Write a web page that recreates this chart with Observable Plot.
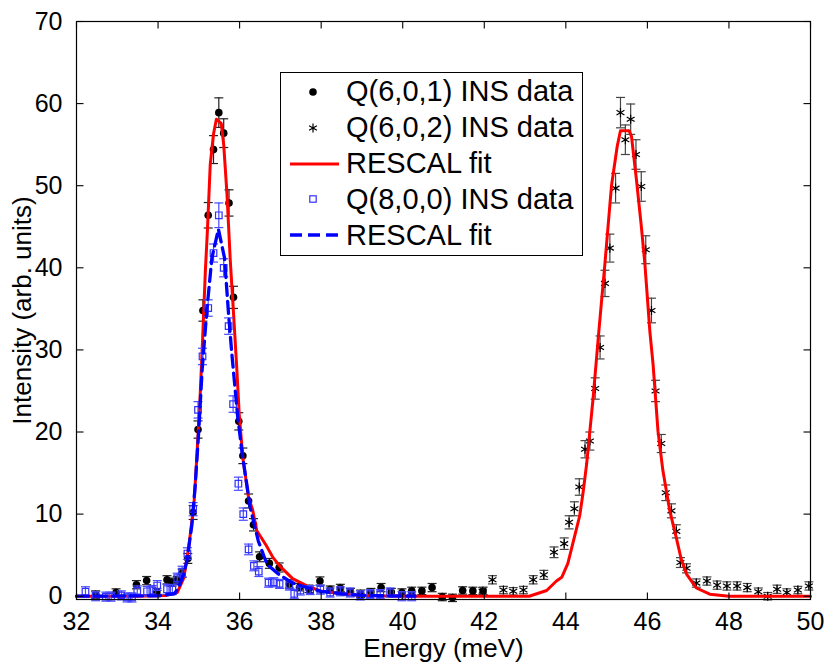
<!DOCTYPE html>
<html>
<head>
<meta charset="utf-8">
<script src="https://cdn.jsdelivr.net/npm/d3@7"></script>
<script src="https://cdn.jsdelivr.net/npm/@observablehq/plot@0.6"></script>
<style>
  body { margin: 0; background: #fff; }
  #wrap { position: relative; width: 830px; height: 666px; font-family: "Liberation Sans", Arial, Helvetica, sans-serif; }
  #legend { position: absolute; left: 280px; top: 72px; width: 303px; height: 184px; box-sizing: border-box;
            border: 1.3px solid #000; background: #fff; padding-top: 1px; }
  .row { display: flex; align-items: center; height: 35.8px; }
  .row svg { flex: none; }
  .row span { font-size: 29px; line-height: 1; margin-left: 5px; color: #000; white-space: nowrap; }
</style>
</head>
<body>
<div id="wrap"></div>
<script>
// ---------------- data ----------------
const xTicks = [32, 34, 36, 38, 40, 42, 44, 46, 48, 50];
const yTicks = [0, 10, 20, 30, 40, 50, 60, 70];

// Q(6,0,1) INS data (filled circles)
const E601 = [32.47, 32.97, 33.47, 33.72, 33.97, 34.22, 34.34, 34.47, 34.59, 34.73, 34.86, 34.98, 35.10, 35.23, 35.36, 35.49, 35.61, 35.74, 35.85, 35.98, 36.08, 36.22, 36.34, 36.49, 36.73, 36.97, 37.22, 37.47, 37.70, 37.97, 38.22, 38.47, 38.72, 38.97, 39.22, 39.47, 39.72, 39.98, 40.22, 40.47, 40.72, 40.97, 41.22, 41.47, 41.72, 41.97];
const I601 = [0.2, 0.45, 1.4, 1.9, 0.5, 2.0, 1.7, 1.9, 2.8, 4.6, 10.2, 20.3, 34.8, 46.4, 54.4, 58.9, 56.4, 47.9, 36.4, 21.3, 17.1, 11.6, 8.7, 4.8, 4.0, 3.5, 1.5, 1.1, 0.9, 1.85, 0.8, 1.0, 0.5, 0.3, 0.5, 1.05, 0.5, 0.45, 0.65, 0.65, 1.05, -0.1, -0.2, 0.7, 0.65, 0.65];
const S601 = [0.45, 0.45, 0.5, 0.5, 0.45, 0.5, 0.5, 0.5, 0.5, 0.6, 0.85, 1.05, 1.3, 1.55, 1.7, 1.8, 1.75, 1.6, 1.35, 1.05, 0.95, 0.85, 0.75, 0.6, 0.6, 0.55, 0.5, 0.45, 0.45, 0.5, 0.45, 0.45, 0.45, 0.45, 0.45, 0.5, 0.45, 0.45, 0.45, 0.45, 0.5, 0.45, 0.45, 0.45, 0.45, 0.45];

// Q(6,0,2) INS data (asterisks)
const E602 = [41.96, 42.20, 42.47, 42.71, 42.96, 43.20, 43.46, 43.71, 43.96, 44.08, 44.21, 44.33, 44.47, 44.59, 44.72, 44.84, 44.96, 45.08, 45.22, 45.34, 45.46, 45.59, 45.72, 45.85, 45.96, 46.10, 46.20, 46.34, 46.45, 46.59, 46.71, 46.81, 46.96, 47.20, 47.46, 47.71, 47.95, 48.20, 48.45, 48.72, 48.95, 49.18, 49.42, 49.69, 49.96];
const I602 = [0.6, 2.0, 0.75, 0.6, 0.75, 2.0, 2.6, 5.35, 6.4, 9.0, 10.65, 13.3, 17.9, 18.9, 25.3, 30.3, 38.1, 42.4, 49.7, 58.9, 55.6, 58.1, 53.8, 49.9, 42.2, 34.8, 25.0, 18.6, 12.6, 10.4, 7.9, 4.1, 3.4, 1.6, 1.85, 1.35, 1.25, 1.25, 1.05, 0.55, 0.0, 0.85, 0.45, 0.75, 1.25];
const S602 = [0.45, 0.5, 0.45, 0.45, 0.45, 0.5, 0.55, 0.65, 0.7, 0.8, 0.85, 1.0, 1.05, 1.1, 1.3, 1.4, 1.6, 1.7, 1.8, 1.85, 1.8, 1.85, 1.8, 1.8, 1.7, 1.5, 1.3, 1.1, 0.95, 0.85, 0.8, 0.6, 0.55, 0.5, 0.5, 0.5, 0.5, 0.5, 0.5, 0.45, 0.45, 0.5, 0.45, 0.45, 0.5];

// Q(8,0,0) INS data (open squares)
const E800 = [32.22, 32.47, 32.72, 32.85, 33.10, 33.24, 33.36, 33.49, 33.73, 33.86, 33.98, 34.22, 34.35, 34.47, 34.59, 34.72, 34.86, 34.98, 35.09, 35.23, 35.36, 35.49, 35.61, 35.73, 35.84, 35.97, 36.09, 36.22, 36.35, 36.47, 36.71, 36.84, 36.98, 37.22, 37.34, 37.49, 37.73, 37.98, 38.22, 38.47, 38.71, 38.96, 39.20, 39.45, 39.69, 39.98, 40.22];
const I800 = [0.55, 0.0, -0.05, -0.05, 0.1, -0.15, -0.15, 0.65, 0.6, 0.7, 1.3, 0.85, 0.8, 2.2, 3.0, 5.2, 10.6, 22.7, 29.2, 35.1, 41.8, 46.4, 40.0, 32.9, 23.4, 13.7, 10.0, 5.7, 3.7, 3.0, 1.65, 1.7, 1.5, 1.3, 0.3, 0.7, 0.75, 0.8, 0.45, 0.6, 0.45, 0.1, 0.25, 0.25, 0.45, 0.0, 0.0];
const S800 = [0.6, 0.55, 0.55, 0.55, 0.55, 0.55, 0.55, 0.6, 0.6, 0.6, 0.6, 0.6, 0.6, 0.6, 0.65, 0.7, 0.8, 1.0, 1.0, 1.0, 1.1, 1.5, 1.1, 1.0, 1.0, 0.8, 0.75, 0.65, 0.6, 0.6, 0.55, 0.55, 0.55, 0.55, 0.55, 0.55, 0.55, 0.55, 0.55, 0.55, 0.55, 0.55, 0.55, 0.55, 0.55, 0.55, 0.55];

// RESCAL fit for Q(6,0,1) and Q(6,0,2) (red solid)
const fitRedE = [32.0, 33.5, 34.2, 34.47, 34.63, 34.75, 34.88, 34.95, 35.03, 35.09, 35.16, 35.21, 35.28, 35.36, 35.43, 35.55, 35.61, 35.69, 35.77, 35.85, 35.93, 35.99, 36.08, 36.22, 36.32, 36.42, 36.65, 36.82, 37.0, 37.3, 37.65, 37.98, 38.5, 39.0, 40.0, 43.1, 43.53, 43.77, 43.9, 44.05, 44.17, 44.25, 44.34, 44.42, 44.51, 44.67, 44.81, 44.96, 45.12, 45.26, 45.34, 45.55, 45.61, 45.73, 45.85, 45.94, 46.06, 46.14, 46.26, 46.38, 46.55, 46.71, 46.83, 46.96, 47.2, 47.53, 48.0, 50.0];
const fitRedI = [0.0, 0.0, 0.1, 0.45, 2.2, 5.9, 11.2, 16.9, 24.2, 31.0, 39.6, 44.5, 52.6, 56.3, 58.1, 57.6, 55.0, 49.0, 41.0, 34.5, 27.8, 22.2, 16.8, 12.0, 10.5, 8.0, 6.2, 4.7, 3.6, 2.15, 1.25, 0.65, 0.3, 0.1, 0.0, 0.0, 0.7, 1.85, 2.3, 4.0, 6.4, 8.0, 9.8, 12.5, 16.1, 24.2, 32.3, 40.6, 50.0, 54.8, 56.7, 56.7, 56.0, 50.8, 45.1, 40.4, 32.3, 28.2, 20.1, 15.3, 10.4, 7.1, 4.5, 2.7, 1.0, 0.25, 0.0, 0.0];

// RESCAL fit for Q(8,0,0) (blue dashed)
const fitBlueE = [32.0, 34.0, 34.4, 34.5, 34.63, 34.71, 34.83, 34.91, 34.99, 35.08, 35.2, 35.32, 35.48, 35.63, 35.73, 35.81, 35.95, 36.06, 36.26, 36.46, 36.67, 36.95, 37.28, 37.69, 38.0, 38.5, 39.0, 40.3];
const fitBlueI = [0.0, 0.05, 0.3, 1.0, 2.7, 4.4, 8.7, 13.4, 19.5, 27.5, 35.0, 41.2, 44.7, 41.2, 34.3, 29.5, 22.0, 17.5, 10.8, 6.7, 3.9, 2.7, 1.65, 1.0, 0.6, 0.3, 0.1, 0.0];

const legendItems = [
  {label: "Q(6,0,1) INS data", kind: "circle"},
  {label: "Q(6,0,2) INS data", kind: "asterisk"},
  {label: "RESCAL fit", kind: "red"},
  {label: "Q(8,0,0) INS data", kind: "square"},
  {label: "RESCAL fit", kind: "blue"}
];

// ---------------- build ----------------
const zip = (E, I, S) => E.map((e, k) => ({e, i: I[k], s: S ? S[k] : 0}));
const d601 = zip(E601, I601, S601);
const d602 = zip(E602, I602, S602);
const d800 = zip(E800, I800, S800);
const redFit = zip(fitRedE, fitRedI);
const blueFit = zip(fitBlueE, fitBlueI);

const sym = (x1, y1, x2, y2) => ({draw(ctx) { ctx.moveTo(x1, y1); ctx.lineTo(x2, y2); }});
const cap = sym(-4.5, 0, 4.5, 0);
const tUp = sym(0, 0, 0, -7), tDown = sym(0, 0, 0, 7), tRight = sym(0, 0, 7, 0), tLeft = sym(0, 0, -7, 0);

function errBars(data, color) {
  return [
    Plot.ruleX(data, {x: "e", y1: d => d.i - d.s, y2: d => d.i + d.s, stroke: color, strokeWidth: 1.2}),
    Plot.dot(data, {x: "e", y: d => d.i + d.s, symbol: cap, stroke: color, strokeWidth: 1.2, fill: "none", r: 4}),
    Plot.dot(data, {x: "e", y: d => d.i - d.s, symbol: cap, stroke: color, strokeWidth: 1.2, fill: "none", r: 4})
  ];
}

const chart = Plot.plot({
  width: 830,
  height: 666,
  marginLeft: 76,
  marginRight: 20,
  marginTop: 21,
  marginBottom: 67,
  style: {fontFamily: "'Liberation Sans', Arial, Helvetica, sans-serif", fontSize: "25px", background: "#fff", color: "#000"},
  x: {domain: [32, 50]},
  y: {domain: [-0.4, 70]},
  marks: [
    // Q(6,0,1)
    ...errBars(d601, "#222"),
    Plot.dot(d601, {x: "e", y: "i", r: 3.8, fill: "#000", stroke: "none"}),
    // Q(6,0,2)
    ...errBars(d602, "#444"),
    Plot.dot(d602, {x: "e", y: "i", symbol: "asterisk", r: 4.3, stroke: "#000", strokeWidth: 1.2, fill: "none"}),
    // red fit
    Plot.line(redFit, {x: "e", y: "i", stroke: "#ff0000", strokeWidth: 3}),
    // Q(8,0,0)
    ...errBars(d800, "#4a4aff"),
    Plot.dot(d800, {x: "e", y: "i", symbol: "square", r: 3.7, stroke: "#3030ff", strokeWidth: 1.2, fill: "none"}),
    // blue fit
    Plot.line(blueFit, {x: "e", y: "i", stroke: "#0000ff", strokeWidth: 3.3, strokeDasharray: "12,6"}),
    // frame and inward ticks
    Plot.frame({stroke: "#000", strokeWidth: 1.2}),
    Plot.dot(xTicks, {x: d => d, frameAnchor: "bottom", symbol: tUp, stroke: "#000", strokeWidth: 1.1, fill: "none"}),
    Plot.dot(xTicks, {x: d => d, frameAnchor: "top", symbol: tDown, stroke: "#000", strokeWidth: 1.1, fill: "none"}),
    Plot.dot(yTicks, {y: d => d, frameAnchor: "left", symbol: tRight, stroke: "#000", strokeWidth: 1.1, fill: "none"}),
    Plot.dot(yTicks, {y: d => d, frameAnchor: "right", symbol: tLeft, stroke: "#000", strokeWidth: 1.1, fill: "none"}),
    Plot.axisX({ticks: xTicks, tickSize: 0, tickPadding: 13, label: null, fontSize: 25}),
    Plot.axisY({ticks: yTicks, tickSize: 0, tickPadding: 14, label: null, fontSize: 25}),
    Plot.text(["Energy (meV)"], {text: d => d, frameAnchor: "bottom", dy: 49, textAnchor: "middle", lineAnchor: "middle", fontSize: 26}),
    Plot.text(["Intensity (arb. units)"], {text: d => d, frameAnchor: "left", dx: -54, rotate: -90, textAnchor: "middle", lineAnchor: "middle", fontSize: 26})
  ]
});

const wrap = document.getElementById("wrap");
wrap.appendChild(chart);

// legend (inside axes, upper middle)
const legend = document.createElement("div");
legend.id = "legend";
const NS = "http://www.w3.org/2000/svg";
for (const item of legendItems) {
  const row = document.createElement("div");
  row.className = "row";
  const svg = document.createElementNS(NS, "svg");
  svg.setAttribute("width", 60);
  svg.setAttribute("height", 36);
  let html = "";
  if (item.kind === "circle") html = `<circle cx="32" cy="18" r="3.8" fill="#000"/>`;
  if (item.kind === "asterisk") html = `<path d="M32,13.5V22.5M28.1,15.75L35.9,20.25M28.1,20.25L35.9,15.75" stroke="#000" stroke-width="1.2"/>`;
  if (item.kind === "square") html = `<rect x="28.8" y="14.8" width="6.4" height="6.4" fill="none" stroke="#3030ff" stroke-width="1.2"/>`;
  if (item.kind === "red") html = `<line x1="9" y1="18" x2="58" y2="18" stroke="#ff0000" stroke-width="3"/>`;
  if (item.kind === "blue") html = `<line x1="9" y1="18" x2="58" y2="18" stroke="#0000ff" stroke-width="3.3" stroke-dasharray="12,6"/>`;
  svg.innerHTML = html;
  row.appendChild(svg);
  const span = document.createElement("span");
  span.textContent = item.label;
  row.appendChild(span);
  legend.appendChild(row);
}
wrap.appendChild(legend);
</script>
</body>
</html>
